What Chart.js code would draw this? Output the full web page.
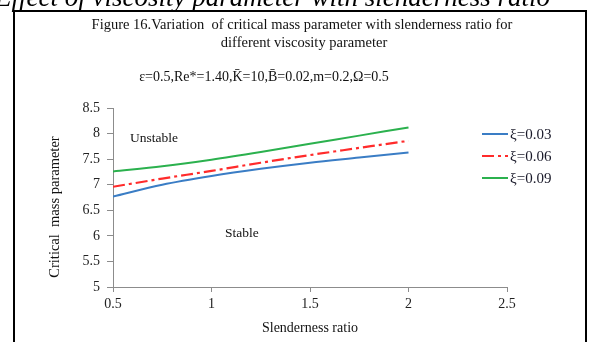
<!DOCTYPE html>
<html><head><meta charset="utf-8">
<script src="https://cdn.jsdelivr.net/npm/chart.js@4/dist/chart.umd.min.js"></script>
<style>html,body{margin:0;padding:0;background:#fff;}canvas{display:block;}</style>
</head><body>
<canvas id="c" width="592" height="342"></canvas>
<script>
// ---- data ----
const slenderness = [0.5, 0.75, 1, 1.25, 1.5, 1.75, 2];
const xi003 = [6.77, 7.00, 7.17, 7.31, 7.43, 7.53, 7.63];
const xi006 = [6.96, 7.12, 7.27, 7.43, 7.58, 7.72, 7.86];
const xi009 = [7.26, 7.36, 7.49, 7.64, 7.80, 7.96, 8.12];
const seriesLabels = ['ξ=0.03', 'ξ=0.06', 'ξ=0.09'];
const xTicks = [0.5, 1, 1.5, 2, 2.5];
const yTicks = [5, 5.5, 6, 6.5, 7, 7.5, 8, 8.5];
const headerText = 'Effect of viscosity parameter with slenderness ratio';
const titleLines = ['Figure 16.Variation  of critical mass parameter with slenderness ratio for', 'different viscosity parameter'];
const subtitleText = 'ε=0.5,Re*=1.40,K\u0304=10,B\u0304=0.02,m=0.2,Ω=0.5';
const xTitle = 'Slenderness ratio';
const yTitle = 'Critical  mass parameter';
const regionNames = ['Unstable', 'Stable'];

const serif = "'Liberation Serif', 'Times New Roman', serif";
const toPts = arr => slenderness.map((x, i) => ({x, y: arr[i]}));

const decor = {
  id: 'decor',
  afterDraw(chart) {
    const ctx = chart.ctx;
    const xs = chart.scales.x, ys = chart.scales.y;
    ctx.save();
    // top cut caption
    ctx.fillStyle = '#000';
    ctx.font = 'italic 27px ' + serif;
    ctx.textAlign = 'left'; ctx.textBaseline = 'alphabetic';
    ctx.fillText(headerText, -5, 6);
    // frame
    ctx.strokeStyle = '#000'; ctx.lineWidth = 2;
    ctx.beginPath();
    ctx.moveTo(14, 345); ctx.lineTo(14, 11); ctx.lineTo(586, 11); ctx.lineTo(586, 345);
    ctx.stroke();
    // titles
    ctx.fillStyle = '#111';
    ctx.textAlign = 'center'; ctx.textBaseline = 'middle';
    ctx.font = '14.5px ' + serif;
    ctx.fillText(titleLines[0], 302, 25);
    ctx.fillText(titleLines[1], 304, 43);
    ctx.font = '14px ' + serif;
    ctx.fillText(subtitleText, 264, 77);
    // axis titles
    ctx.font = '14px ' + serif;
    ctx.fillText(xTitle, 310, 328);
    ctx.save();
    ctx.translate(55, 207);
    ctx.rotate(-Math.PI / 2);
    ctx.font = '14.5px ' + serif;
    ctx.fillText(yTitle, 0, 0);
    ctx.restore();
    // region labels
    ctx.font = '13.5px ' + serif;
    ctx.fillText(regionNames[0], xs.getPixelForValue(0.708), ys.getPixelForValue(7.91));
    ctx.fillText(regionNames[1], xs.getPixelForValue(1.154), ys.getPixelForValue(6.04));
    // legend
    ctx.textAlign = 'left';
    ctx.font = '15px ' + serif;
    chart.data.datasets.forEach((ds, i) => {
      const y = 134 + i * 22;
      ctx.save();
      ctx.strokeStyle = ds.borderColor;
      ctx.lineWidth = ds.borderWidth;
      ctx.setLineDash(ds.borderDash || []);
      ctx.beginPath(); ctx.moveTo(482, y); ctx.lineTo(508, y); ctx.stroke();
      ctx.restore();
      ctx.fillStyle = '#1a1a2a';
      ctx.fillText(ds.label, 510, y + 1);
    });
    ctx.restore();
  }
};

new Chart(document.getElementById('c'), {
  type: 'line',
  data: {
    datasets: [
      {label: seriesLabels[0], data: toPts(xi003), borderColor: '#3a7dc5', borderWidth: 2, pointRadius: 0, cubicInterpolationMode: 'monotone', fill: false},
      {label: seriesLabels[1], data: toPts(xi006), borderColor: '#ff2b2b', borderWidth: 2.2, borderDash: [12, 4, 3, 4], pointRadius: 0, cubicInterpolationMode: 'monotone', fill: false},
      {label: seriesLabels[2], data: toPts(xi009), borderColor: '#2bb14e', borderWidth: 2, pointRadius: 0, cubicInterpolationMode: 'monotone', fill: false}
    ]
  },
  options: {
    responsive: false,
    animation: false,
    layout: {padding: {left: 0, top: 108, right: 85, bottom: 0}},
    plugins: {legend: {display: false}, title: {display: false}, tooltip: {enabled: false}},
    scales: {
      x: {
        type: 'linear', min: 0.5, max: 2.5,
        afterBuildTicks: s => { s.ticks = xTicks.map(v => ({value: v})); },
        afterFit: s => { s.height = 55; },
        grid: {display: true, drawOnChartArea: false, drawTicks: true, tickLength: 5, color: '#8c8c8c'},
        border: {display: true, color: '#8c8c8c', width: 1},
        ticks: {font: {family: serif, size: 14}, color: '#222', padding: 4, maxRotation: 0, callback: v => String(v)}
      },
      y: {
        type: 'linear', min: 5, max: 8.5,
        afterBuildTicks: s => { s.ticks = yTicks.map(v => ({value: v})); },
        afterFit: s => { s.width = 113; },
        grid: {display: true, drawOnChartArea: false, drawTicks: true, tickLength: 6, color: '#8c8c8c'},
        border: {display: true, color: '#8c8c8c', width: 1},
        ticks: {font: {family: serif, size: 14}, color: '#222', padding: 7, callback: v => String(v)}
      }
    }
  },
  plugins: [decor]
});
</script>
</body></html>
